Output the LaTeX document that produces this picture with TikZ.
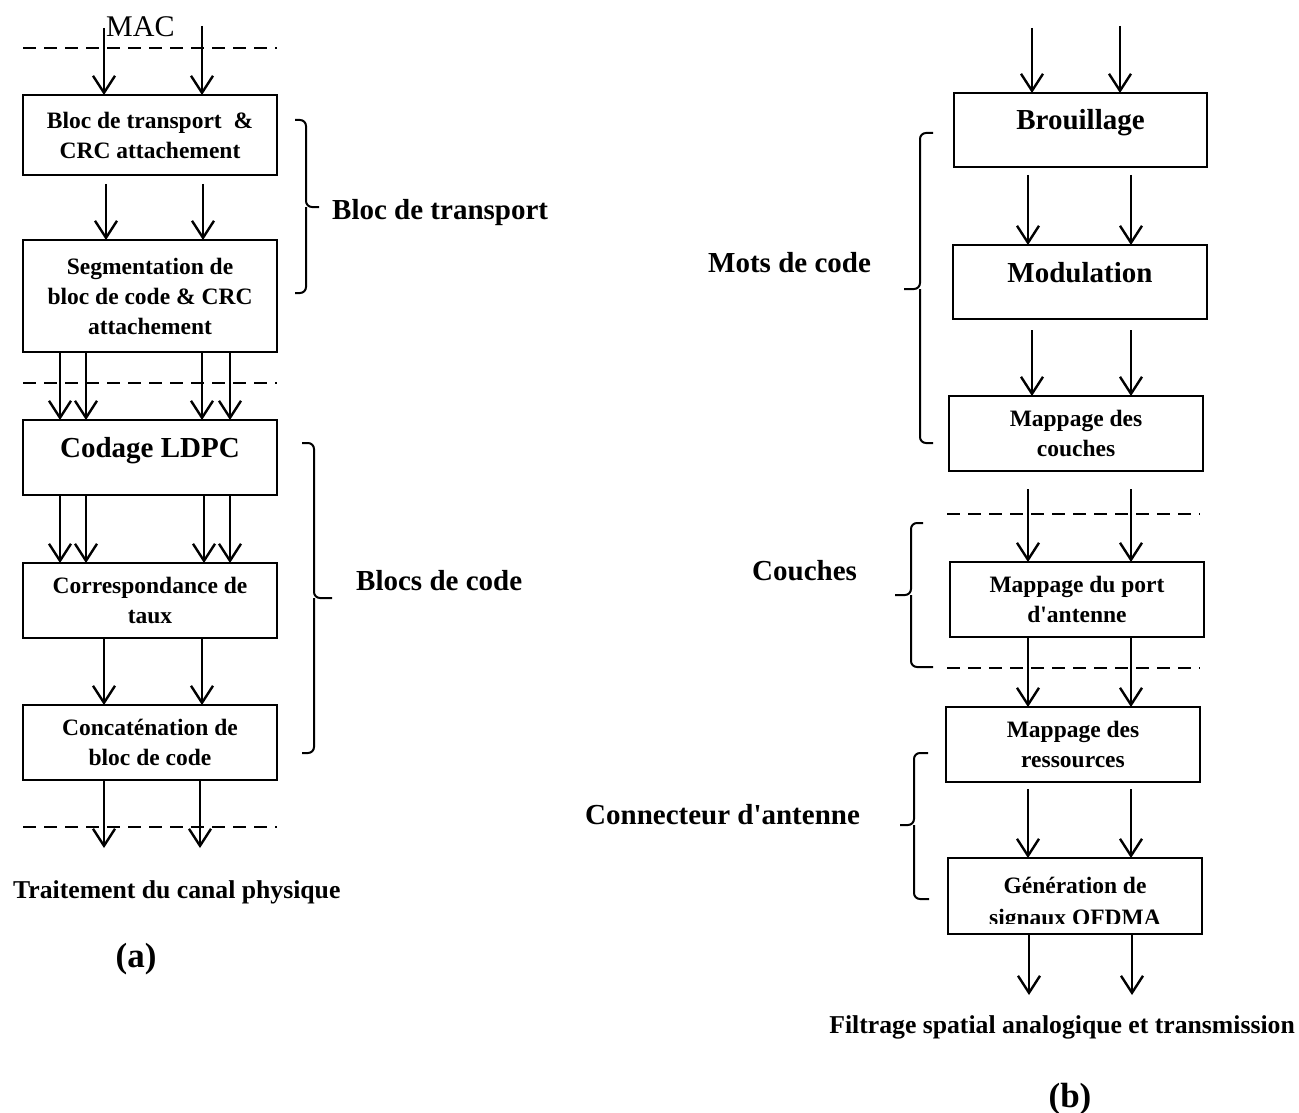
\documentclass[tikz,border=0pt]{standalone}
\usepackage{fontspec}
\setmainfont{Liberation Serif}
\usetikzlibrary{arrows.meta,calc}
\begin{document}
\begin{tikzpicture}[x=1pt,y=1pt,
  box/.style={draw, line width=2.2pt, outer sep=0pt, inner sep=0pt,
    minimum width=254pt, minimum height=75pt, align=center,
    font=\fontsize{23.5}{30}\selectfont\bfseries},
  bigbox/.style={box, font=\fontsize{29}{34}\selectfont\bfseries,
    text height=12pt, text depth=12pt},
  arr/.style={line width=2.4pt, -{Straight Barb[length=17pt,width=22pt]}},
  sepline/.style={line width=2pt, dash pattern=on 13pt off 8pt},
  brace/.style={line width=2pt, rounded corners=6pt},
  lbl/.style={font=\fontsize{29}{34}\selectfont\bfseries, anchor=base west, inner sep=0pt},
  capt/.style={font=\fontsize{25.7}{30}\selectfont\bfseries, inner sep=0pt},
  tag/.style={font=\fontsize{35}{40}\selectfont\bfseries, inner sep=0pt, anchor=base}
]
\useasboundingbox (0,0) rectangle (1299,-1113);

% ---------------- (a) transport channel chain ----------------
\node[box, minimum height=80pt] (b1) at (150,-135) {Bloc de transport\ \ \&\\CRC attachement};
\node[box, minimum height=112pt] (b2) at (150,-296) {Segmentation de\\bloc de code \& CRC\\attachement};
\node[bigbox] (b3) at (150,-457.5) {Codage LDPC};
\node[box] (b4) at (150,-600.5) {Correspondance de\\taux};
\node[box] (b5) at (150,-742.5) {Concaténation de\\bloc de code};

\node[font=\fontsize{30}{34}\selectfont, anchor=base west, inner sep=0pt] (mac) at (106,-37) {MAC};

\coordinate (ma) at (104,-28);
\coordinate (mb) at (202,-26);
\coordinate (oa) at (104,-848);
\coordinate (ob) at (200,-848);

\draw[sepline] (23,-48) -- (277,-48);
\draw[sepline] (23,-383) -- (277,-383);
\draw[sepline] (23,-827) -- (277,-827);

\draw[arr] (ma) -- ($(b1.north west)+(81,0)$);
\draw[arr] (mb) -- ($(b1.north west)+(179,0)$);

\foreach \dx in {83,180}
  \draw[arr] ($(b1.south west)+(\dx,-9)$) -- ($(b2.north west)+(\dx,0)$);
\foreach \dx in {37,63,179,207}
  \draw[arr] ($(b2.south west)+(\dx,0)$) -- ($(b3.north west)+(\dx,0)$);
\foreach \dx in {37,63,181,207}
  \draw[arr] ($(b3.south west)+(\dx,0)$) -- ($(b4.north west)+(\dx,0)$);
\foreach \dx in {81,179}
  \draw[arr] ($(b4.south west)+(\dx,0)$) -- ($(b5.north west)+(\dx,0)$);
\draw[arr] ($(b5.south west)+(81,0)$) -- (oa);
\draw[arr] ($(b5.south west)+(177,0)$) -- (ob);

% braces of (a)
\draw[brace] (295,-120) -- (306,-120) -- (306,-207) -- (319,-207);
\draw[brace] (306,-207) -- (306,-293) -- (295,-293);
\node[lbl] (lt) at (332,-219) {Bloc de transport};

\draw[brace] (302,-443) -- (314,-443) -- (314,-598) -- (332,-598);
\draw[brace] (314,-598) -- (314,-753) -- (302,-753);
\node[lbl] (lc) at (356,-590) {Blocs de code};

\node[capt, anchor=base west] (pa) at (13,-898) {Traitement du canal physique};
\node[tag] (ta) at (136,-967) {(a)};

% ---------------- (b) physical channel chain ----------------
\node[bigbox, minimum width=253pt, minimum height=74pt] (r1) at (1080.5,-130) {Brouillage};
\node[bigbox, minimum height=74pt] (r2) at (1080,-282) {Modulation};
\node[box] (r3) at (1076,-433.5) {Mappage des\\couches};
\node[box] (r4) at (1077,-599.5) {Mappage du port\\d\textquotesingle antenne};
\node[box] (r5) at (1073,-744.5) {Mappage des\\ressources};
\node[box, minimum height=76pt] (r6) at (1075,-896) {};
\begin{scope}
  \clip (949,-858) rectangle (1201,-923.5);
  \node[font=\fontsize{23.5}{30}\selectfont\bfseries, anchor=base, inner sep=0pt] (g1) at (1075,-893) {Génération de};
  \node[font=\fontsize{23.5}{30}\selectfont\bfseries, anchor=base, inner sep=0pt] (g2) at (1075,-925) {signaux OFDMA};
\end{scope}

\coordinate (ia) at (1032,-28);
\coordinate (ib) at (1120,-26);
\coordinate (fa) at (1029,-995);
\coordinate (fb) at (1132,-995);

\draw[sepline] (947,-514) -- (1200,-514);
\draw[sepline] (947,-668) -- (1200,-668);

\draw[arr] (ia) -- ($(r1.north west)+(78,0)$);
\draw[arr] (ib) -- ($(r1.north west)+(166,0)$);
\draw[arr] ($(r1.south west)+(74,-8)$) -- ($(r2.north west)+(75,0)$);
\draw[arr] ($(r1.south west)+(177,-8)$) -- ($(r2.north west)+(178,0)$);
\draw[arr] ($(r2.south west)+(79,-11)$) -- ($(r3.north west)+(83,0)$);
\draw[arr] ($(r2.south west)+(178,-11)$) -- ($(r3.north west)+(182,0)$);
\draw[arr] ($(r3.south west)+(79,-18)$) -- ($(r4.north west)+(78,0)$);
\draw[arr] ($(r3.south west)+(182,-18)$) -- ($(r4.north west)+(181,0)$);
\draw[arr] ($(r4.south west)+(78,0)$) -- ($(r5.north west)+(82,0)$);
\draw[arr] ($(r4.south west)+(181,0)$) -- ($(r5.north west)+(185,0)$);
\draw[arr] ($(r5.south west)+(82,-7)$) -- ($(r6.north west)+(80,0)$);
\draw[arr] ($(r5.south west)+(185,-7)$) -- ($(r6.north west)+(183,0)$);
\draw[arr] ($(r6.south west)+(81,0)$) -- (fa);
\draw[arr] ($(r6.south west)+(184,0)$) -- (fb);

% braces of (b)
\draw[brace] (933,-133) -- (920,-133) -- (920,-289) -- (904,-289);
\draw[brace] (920,-289) -- (920,-443) -- (933,-443);
\node[lbl] (lm) at (708,-272) {Mots de code};

\draw[brace] (923,-523) -- (911,-523) -- (911,-595) -- (895,-595);
\draw[brace] (911,-595) -- (911,-667) -- (933,-667);
\node[lbl] (lk) at (752,-580) {Couches};

\draw[brace] (928,-753) -- (914,-753) -- (914,-825) -- (900,-825);
\draw[brace] (914,-825) -- (914,-899) -- (929,-899);
\node[lbl] (la) at (585,-824) {Connecteur d\textquotesingle antenne};

\node[capt, anchor=base east] (pb) at (1295,-1033) {Filtrage spatial analogique et transmission};
\node[tag] (tb) at (1070,-1107) {(b)};
\end{tikzpicture}
\end{document}
